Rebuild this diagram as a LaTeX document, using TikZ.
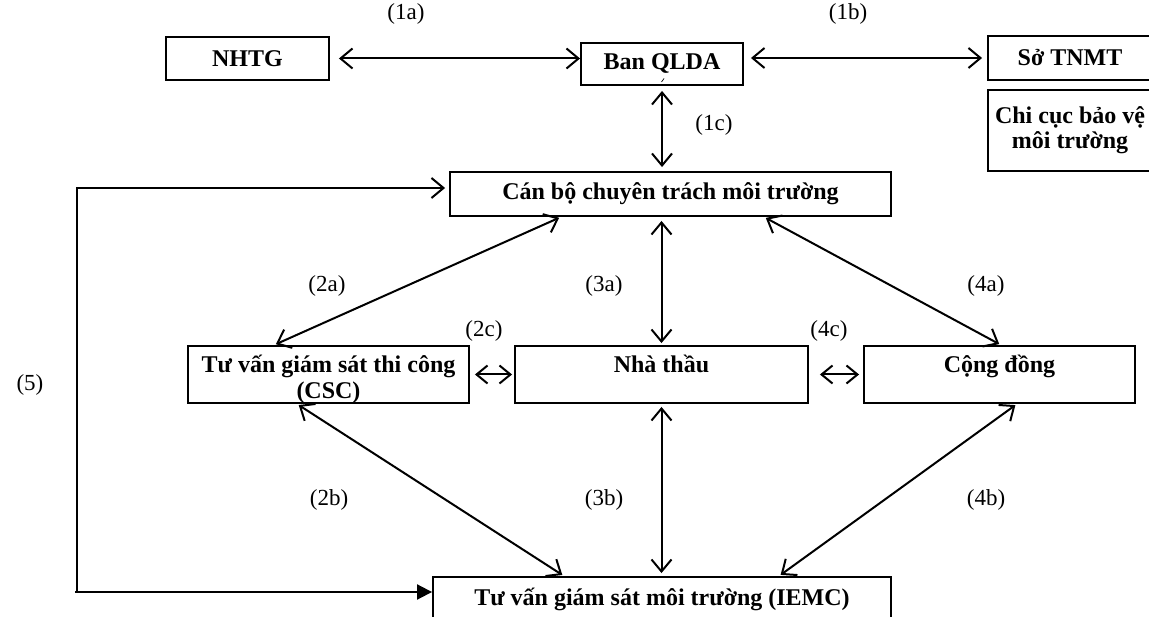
\documentclass[tikz,border=0pt]{standalone}
\usepackage{fontspec}
\setmainfont{Liberation Serif}
\usetikzlibrary{arrows.meta,calc}
\begin{document}
\begin{tikzpicture}[x=1pt,y=-1pt,
  box/.style={draw, line width=1.9pt, rectangle, inner sep=0pt, align=center,
    font=\fontsize{24}{26}\selectfont\bfseries},
  topline/.style={text height=20pt, text depth=23pt},
  lbl/.style={font=\fontsize{23}{25}\selectfont, inner sep=0pt},
  link/.style={line width=2pt,
    {Straight Barb[length=12pt,width=20pt]}-{Straight Barb[length=12pt,width=20pt]}},
  shortlink/.style={line width=2pt,
    {Straight Barb[length=11pt,width=18pt]}-{Straight Barb[length=11pt,width=18pt]}},
  feed/.style={line width=2pt, -{Straight Barb[length=12pt,width=20pt]}},
  feedfill/.style={line width=2pt, -{Triangle[length=15pt,width=15pt]}}
]
\useasboundingbox (0,0) rectangle (1149,617);
\clip (0,0) rectangle (1149,617);

% boxes
\node[box, minimum width=163pt, minimum height=43pt] (nhtg)   at (247.5,58.5) {NHTG};
\node[box, minimum width=162pt, minimum height=42pt] (banql)  at (662,64)     {Ban QLDA};
\node[box, minimum width=164pt, minimum height=44pt] (sotnmt) at (1070,58)    {Sở TNMT};
\node[box, minimum width=164pt, minimum height=81pt, font=\fontsize{24}{25}\selectfont\bfseries] (chicuc) at (1070,130.5)
  {Chi cục bảo vệ\\môi trường};
\node[box, minimum width=441pt, minimum height=44pt] (canbo)  at (670.5,194)  {Cán bộ chuyên trách môi trường};
\node[box, minimum width=281pt, minimum height=57pt, text height=49pt, text depth=0pt] (csc) at (328.5,374.5)
  {Tư vấn giám sát thi công\\(CSC)};
\node[box, topline, minimum width=293pt, minimum height=57pt] (nhathau) at (661.5,374.5) {Nhà thầu};
\node[box, topline, minimum width=271pt, minimum height=57pt] (congdong) at (999.5,374.5) {Cộng đồng};
\node[box, minimum width=458pt, minimum height=60pt, text height=20pt, text depth=24pt] (iemc) at (662,607)
  {Tư vấn giám sát môi trường (IEMC)};

% stray accent mark under Ban QLDA
\draw[line width=0.7pt] (661.5,82) -- (664,78.5);

% connectors
\draw[link, shorten <=9pt] (nhtg.east) -- (nhtg.east -| banql.west);
\draw[link, shorten <=7pt, shorten >=5pt] (banql.east |- sotnmt.west) -- (sotnmt.west);
\draw[link, shorten <=5pt, shorten >=4pt] (banql.south) -- (banql.south |- canbo.north);
\draw[link, shorten <=2pt, shorten >=2pt] ([xshift=-109.5pt]canbo.south) -- ([xshift=-54.5pt]csc.north);
\draw[link, shorten <=4pt, shorten >=2pt] (nhathau.north |- canbo.south) -- (nhathau.north);
\draw[link, shorten <=2pt, shorten >=2pt] ([xshift=93.5pt]canbo.south) -- ([xshift=1.5pt]congdong.north);
\draw[shortlink, shorten <=5pt, shorten >=2pt] (csc.east) -- (nhathau.west);
\draw[shortlink, shorten <=11pt, shorten >=4pt] (nhathau.east) -- (congdong.west);
\draw[link, shorten <=2pt, shorten >=2pt] ([xshift=-31.5pt]csc.south) -- ([xshift=-98pt]iemc.north);
\draw[link, shorten <=3pt, shorten >=3pt] (nhathau.south) -- (nhathau.south |- iemc.north);
\draw[link, shorten <=2pt, shorten >=2pt] ([xshift=17.5pt]congdong.south) -- ([xshift=117pt]iemc.north);

% feedback loop (5)
\coordinate (c5a) at (77,188);
\coordinate (c5b) at (77,592);
\draw[feed, shorten >=4pt] (c5b) -- (c5a) -- (c5a -| canbo.west);
\draw[feedfill] ([xshift=-2pt]c5b) -- (c5b -| iemc.west);

% labels
\node[lbl] (l1a) at (406,14)  {(1a)};
\node[lbl] (l1b) at (848,14)  {(1b)};
\node[lbl] (l1c) at (714,125) {(1c)};
\node[lbl] (l2a) at (327,286) {(2a)};
\node[lbl] (l3a) at (604,286) {(3a)};
\node[lbl] (l4a) at (986,286) {(4a)};
\node[lbl] (l2c) at (484,331) {(2c)};
\node[lbl] (l4c) at (829,331) {(4c)};
\node[lbl] (l5)  at (30,385)  {(5)};
\node[lbl] (l2b) at (329,500) {(2b)};
\node[lbl] (l3b) at (604,500) {(3b)};
\node[lbl] (l4b) at (986,500) {(4b)};
\end{tikzpicture}
\end{document}
